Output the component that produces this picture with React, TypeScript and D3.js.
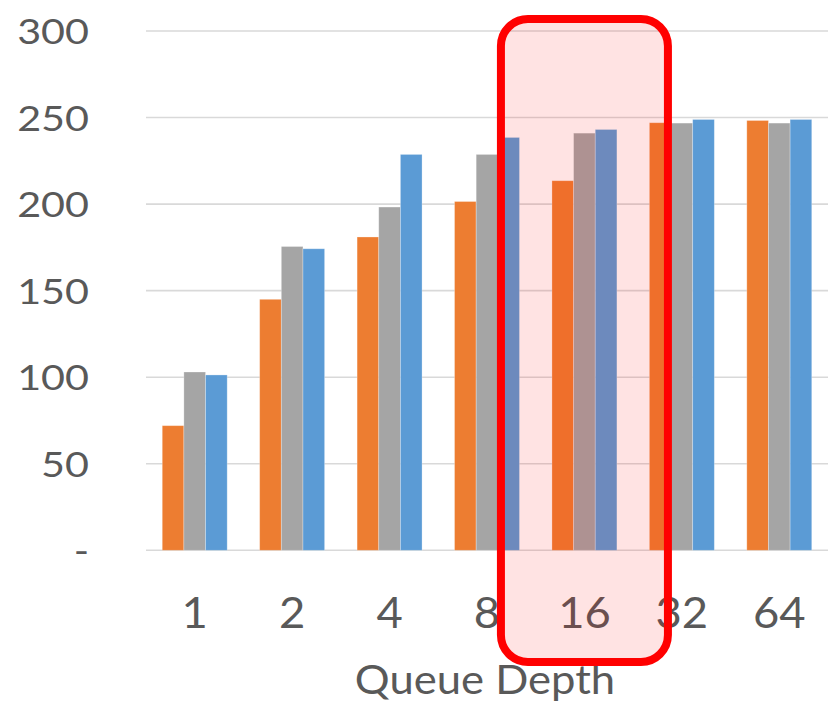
import React from "react";
import * as d3 from "d3";

// Queue depths along the x axis
const categories = ["1", "2", "4", "8", "16", "32", "64"];

// Three bar series, one value per queue depth
const seriesA = [72, 145, 181, 201.5, 213.5, 247, 248.3];
const seriesB = [103, 175.5, 198.3, 228.7, 241, 246.8, 246.8];
const seriesC = [101.3, 174.2, 228.7, 238.5, 243.1, 248.9, 248.9];

const seriesKeys = ["a", "b", "c"];
const seriesValues = [seriesA, seriesB, seriesC];
const seriesColors = ["#ed7d31", "#a5a5a5", "#5b9bd5"];

// Y axis ticks
const yTicks = [0, 50, 100, 150, 200, 250, 300];

// Highlighted queue depth
const highlight = "16";

const W = 833;
const H = 704;
const FONT = "Lato, 'Open Sans', sans-serif";
const TEXT = "#595959";

export default function App() {
  const x = d3
    .scaleBand<string>()
    .domain(categories)
    .range([146, 828])
    .paddingInner(1 / 3)
    .paddingOuter(1 / 6);
  const inner = d3
    .scaleBand<string>()
    .domain(seriesKeys)
    .range([0, x.bandwidth()]);
  const y = d3.scaleLinear().domain([0, 300]).range([550.3, 31]);

  const fmt = (v: number) => (v === 0 ? "-" : d3.format("d")(v));

  const hx = (x(highlight) as number) + x.bandwidth() / 2;

  return (
    <svg
      width={W}
      height={H}
      style={{ position: "absolute", left: 0, top: 0, background: "#fff" }}
    >
      {/* gridlines */}
      {yTicks.map((t) => (
        <line
          key={"g" + t}
          x1={146}
          x2={828}
          y1={y(t)}
          y2={y(t)}
          stroke="#d9d9d9"
          strokeWidth={1.6}
        />
      ))}
      {/* y tick labels */}
      {yTicks.map((t) => (
        <text
          key={"y" + t}
          transform={`translate(89,${y(t) + 13}) scale(1.18,1)`}
          textAnchor="end"
          fontFamily={FONT}
          fontSize={35}
          fill={TEXT}
        >
          {fmt(t)}
        </text>
      ))}
      {/* bars */}
      {categories.map((c, i) => (
        <g key={"c" + c} transform={`translate(${x(c)},0)`}>
          {seriesKeys.map((k, j) => {
            const v = seriesValues[j][i];
            return (
              <rect
                key={k}
                x={inner(k)}
                y={y(v)}
                width={inner.bandwidth()}
                height={y(0) - y(v)}
                fill={seriesColors[j]}
                stroke="#ffffff"
                strokeOpacity={0.35}
                strokeWidth={0.8}
              />
            );
          })}
        </g>
      ))}
      {/* x tick labels */}
      {categories.map((c) => (
        <text
          key={"x" + c}
          transform={`translate(${(x(c) as number) + x.bandwidth() / 2},628) scale(1.08,1)`}
          textAnchor="middle"
          fontFamily={FONT}
          fontSize={42}
          fill={TEXT}
        >
          {c}
        </text>
      ))}
      {/* axis title */}
      <text
        transform={`translate(485,694) scale(1.09,1)`}
        textAnchor="middle"
        fontFamily={FONT}
        fontSize={40}
        fill={TEXT}
      >
        Queue Depth
      </text>
      {/* highlight around the selected queue depth */}
      <rect
        x={hx - 83.5}
        y={19}
        width={167}
        height={643}
        rx={27}
        ry={27}
        fill="rgba(255,0,0,0.11)"
        stroke="#ff0000"
        strokeWidth={8}
      />
    </svg>
  );
}
